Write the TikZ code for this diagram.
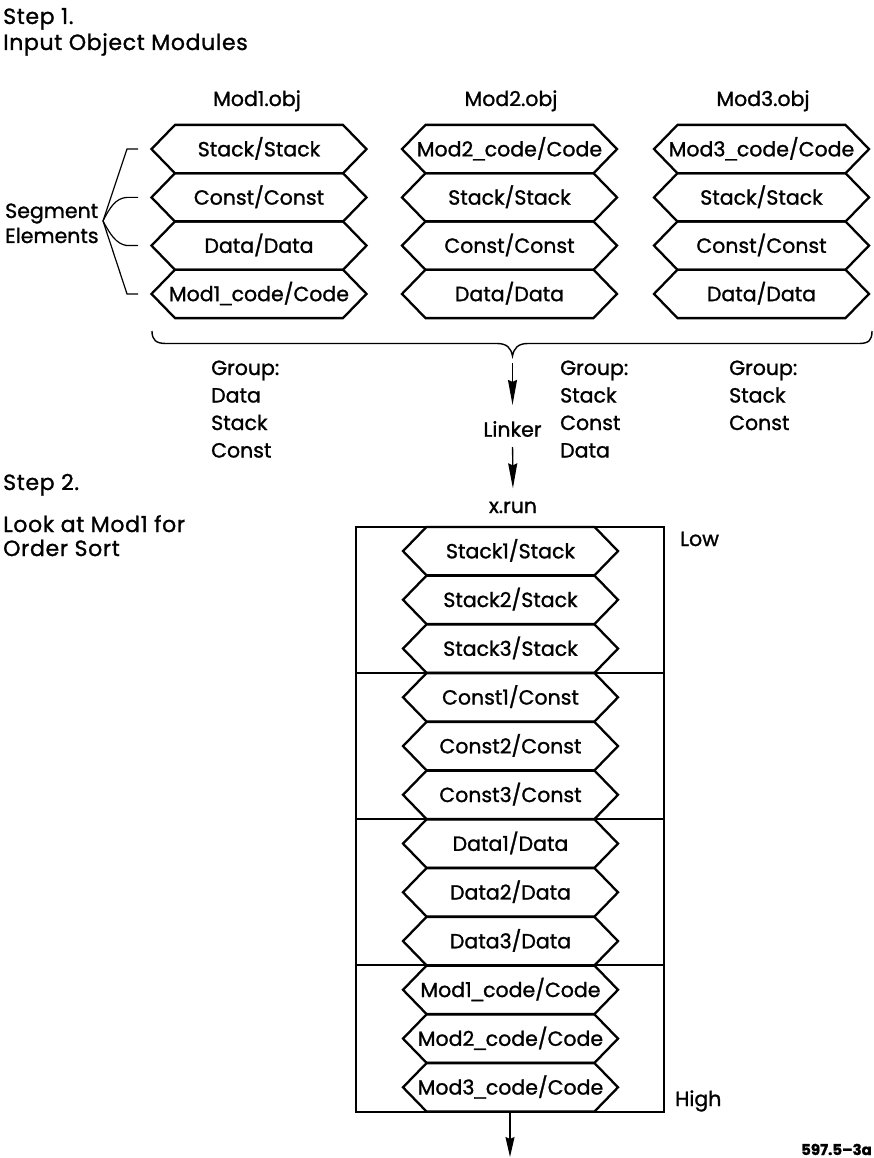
\documentclass[tikz,border=0pt]{standalone}
\usepackage{fontspec}
\setmainfont{Poppins}[RawFeature={embolden=1.2}]
\newfontfamily\headfont{Poppins}[LetterSpace=3, RawFeature={embolden=1.2}]
\newfontfamily\usfont{Liberation Sans}[RawFeature={embolden=1.2}]
\newcommand\us{{\usfont\_}}
\usetikzlibrary{arrows.meta}

% one hexagonal segment element: name, centre x, centre y, label
\newcommand\hexseg[4]{%
  \draw[hexline] ({#2-84},{#3-24.2}) -- ({#2+84},{#3-24.2}) -- ({#2+107.5},#3)
    -- ({#2+84},{#3+24.2}) -- ({#2-84},{#3+24.2}) -- ({#2-107.5},#3) -- cycle;
  \node[seglabel] (#1) at (#2,#3) {#4};}

\begin{document}
\begin{tikzpicture}[x=1pt,y=-1pt,
  txt/.style={font=\fontsize{20.5}{24}\selectfont, inner sep=0pt},
  head/.style={font=\headfont\fontsize{22}{26}\selectfont, inner sep=0pt},
  seglabel/.style={txt, text height=14.5pt, text depth=0pt},
  hexline/.style={draw, line width=2.3pt, line join=miter},
  boxline/.style={line width=2pt},
  thinline/.style={line width=1.2pt},
  arr/.style={line width=1.3pt, -{Stealth[length=25pt,width=9pt,inset=2pt]}},
  arrshort/.style={line width=1.3pt, -{Stealth[length=20pt,width=9pt,inset=2pt]}},
  tag/.style={font=\bfseries\fontsize{15}{18}\selectfont, inner sep=0pt}]
\useasboundingbox (0,0) rectangle (874,1158);

% headings
\node[head, anchor=base west] (step1) at (3,24) {Step 1.};
\node[head, anchor=base west] (inmods) at (3,50) {Input Object Modules};

% module titles
\node[txt, anchor=base] (m1) at (257,106) {Mod1.obj};
\node[txt, anchor=base] (m2) at (511,106) {Mod2.obj};
\node[txt, anchor=base] (m3) at (763,106) {Mod3.obj};

% input object modules
\hexseg{a1}{259}{149.1}{Stack/Stack}
\hexseg{a2}{259}{197.4}{Const/Const}
\hexseg{a3}{259}{245.6}{Data/Data}
\hexseg{a4}{259}{293.9}{Mod1\us code/Code}

\hexseg{b1}{509.5}{149.1}{Mod2\us code/Code}
\hexseg{b2}{509.5}{197.4}{Stack/Stack}
\hexseg{b3}{509.5}{245.6}{Const/Const}
\hexseg{b4}{509.5}{293.9}{Data/Data}

\hexseg{c1}{761.5}{149.1}{Mod3\us code/Code}
\hexseg{c2}{761.5}{197.4}{Stack/Stack}
\hexseg{c3}{761.5}{245.6}{Const/Const}
\hexseg{c4}{761.5}{293.9}{Data/Data}

% segment elements callout
\node[txt, anchor=base west] (segA) at (5,218) {Segment};
\node[txt, anchor=base west] (segB) at (5,243) {Elements};
\coordinate (v) at (103,221);
\coordinate (e1) at (138,149.1);
\coordinate (e2) at (138,197.4);
\coordinate (e3) at (138,245.6);
\coordinate (e4) at (138,293.9);
\draw[thinline] (v) -- ([xshift=-11pt]e1) -- (e1);
\draw[thinline] (v) .. controls (110,207) and (116,198) .. ([xshift=-11pt]e2) -- (e2);
\draw[thinline] (v) .. controls (110,234) and (116,244) .. ([xshift=-11pt]e3) -- (e3);
\draw[thinline] (v) -- ([xshift=-11pt]e4) -- (e4);

% brace gathering the modules
\coordinate (bt) at (512.5,356);
\draw[line width=1.4pt] (152,331) .. controls (152,340) and (156,343.5) .. (166,343.5)
  -- (497,343.5) .. controls (507,343.5) and (511,348) .. (bt)
  .. controls (514,348) and (518,343.5) .. (528,343.5)
  -- (859,343.5) .. controls (869,343.5) and (872,340) .. (872,331);

% group definitions
\node[txt, anchor=base west] (g1a) at (211,375) {Group:};
\node[txt, anchor=base west] (g1b) at (211,402.5) {Data};
\node[txt, anchor=base west] (g1c) at (211,430) {Stack};
\node[txt, anchor=base west] (g1d) at (211,457.5) {Const};

\node[txt, anchor=base west] (g2a) at (560,375) {Group:};
\node[txt, anchor=base west] (g2b) at (560,402.5) {Stack};
\node[txt, anchor=base west] (g2c) at (560,430) {Const};
\node[txt, anchor=base west] (g2d) at (560,457.5) {Data};

\node[txt, anchor=base west] (g3a) at (729,375) {Group:};
\node[txt, anchor=base west] (g3b) at (729,402.5) {Stack};
\node[txt, anchor=base west] (g3c) at (729,430) {Const};

% linker step
\node[txt, anchor=base] (linker) at (512.5,436.7) {Linker};
\node[txt, anchor=base] (xrun) at (513,513) {x.run};
\draw[arr, shorten <=7pt, shorten >=16pt] (bt) -- (linker.north);
\draw[arr, shorten <=10pt, shorten >=13pt] (linker.south) -- (xrun.north);

% step 2 notes
\node[head, anchor=base west] (step2) at (3,490) {Step 2.};
\node[head, anchor=base west] (look) at (3,532) {Look at Mod1 for};
\node[head, anchor=base west] (sort) at (3,556) {Order Sort};

% output module
\node[draw, boxline, minimum width=308pt, minimum height=585pt, inner sep=0pt] (run) at (510,819.2) {};
\draw[boxline] (356,672.95) -- (664,672.95);
\draw[boxline] (356,819.2) -- (664,819.2);
\draw[boxline] (356,965.45) -- (664,965.45);

\hexseg{r1}{510.5}{551.1}{Stack1/Stack}
\hexseg{r2}{510.5}{599.8}{Stack2/Stack}
\hexseg{r3}{510.5}{648.6}{Stack3/Stack}
\hexseg{r4}{510.5}{697.3}{Const1/Const}
\hexseg{r5}{510.5}{746.1}{Const2/Const}
\hexseg{r6}{510.5}{794.8}{Const3/Const}
\hexseg{r7}{510.5}{843.6}{Data1/Data}
\hexseg{r8}{510.5}{892.3}{Data2/Data}
\hexseg{r9}{510.5}{941.1}{Data3/Data}
\hexseg{r10}{510.5}{989.8}{Mod1\us code/Code}
\hexseg{r11}{510.5}{1038.6}{Mod2\us code/Code}
\hexseg{r12}{510.5}{1087.3}{Mod3\us code/Code}

\node[txt, anchor=base west] (low) at (680,546) {Low};
\node[txt, anchor=base west] (high) at (675,1106) {High};

\coordinate (out) at (510,1157);
\draw[arrshort] (run.south) -- (out);

\node[tag, anchor=base east] (fig) at (872,1155) {597.5--3a};
\end{tikzpicture}
\end{document}
